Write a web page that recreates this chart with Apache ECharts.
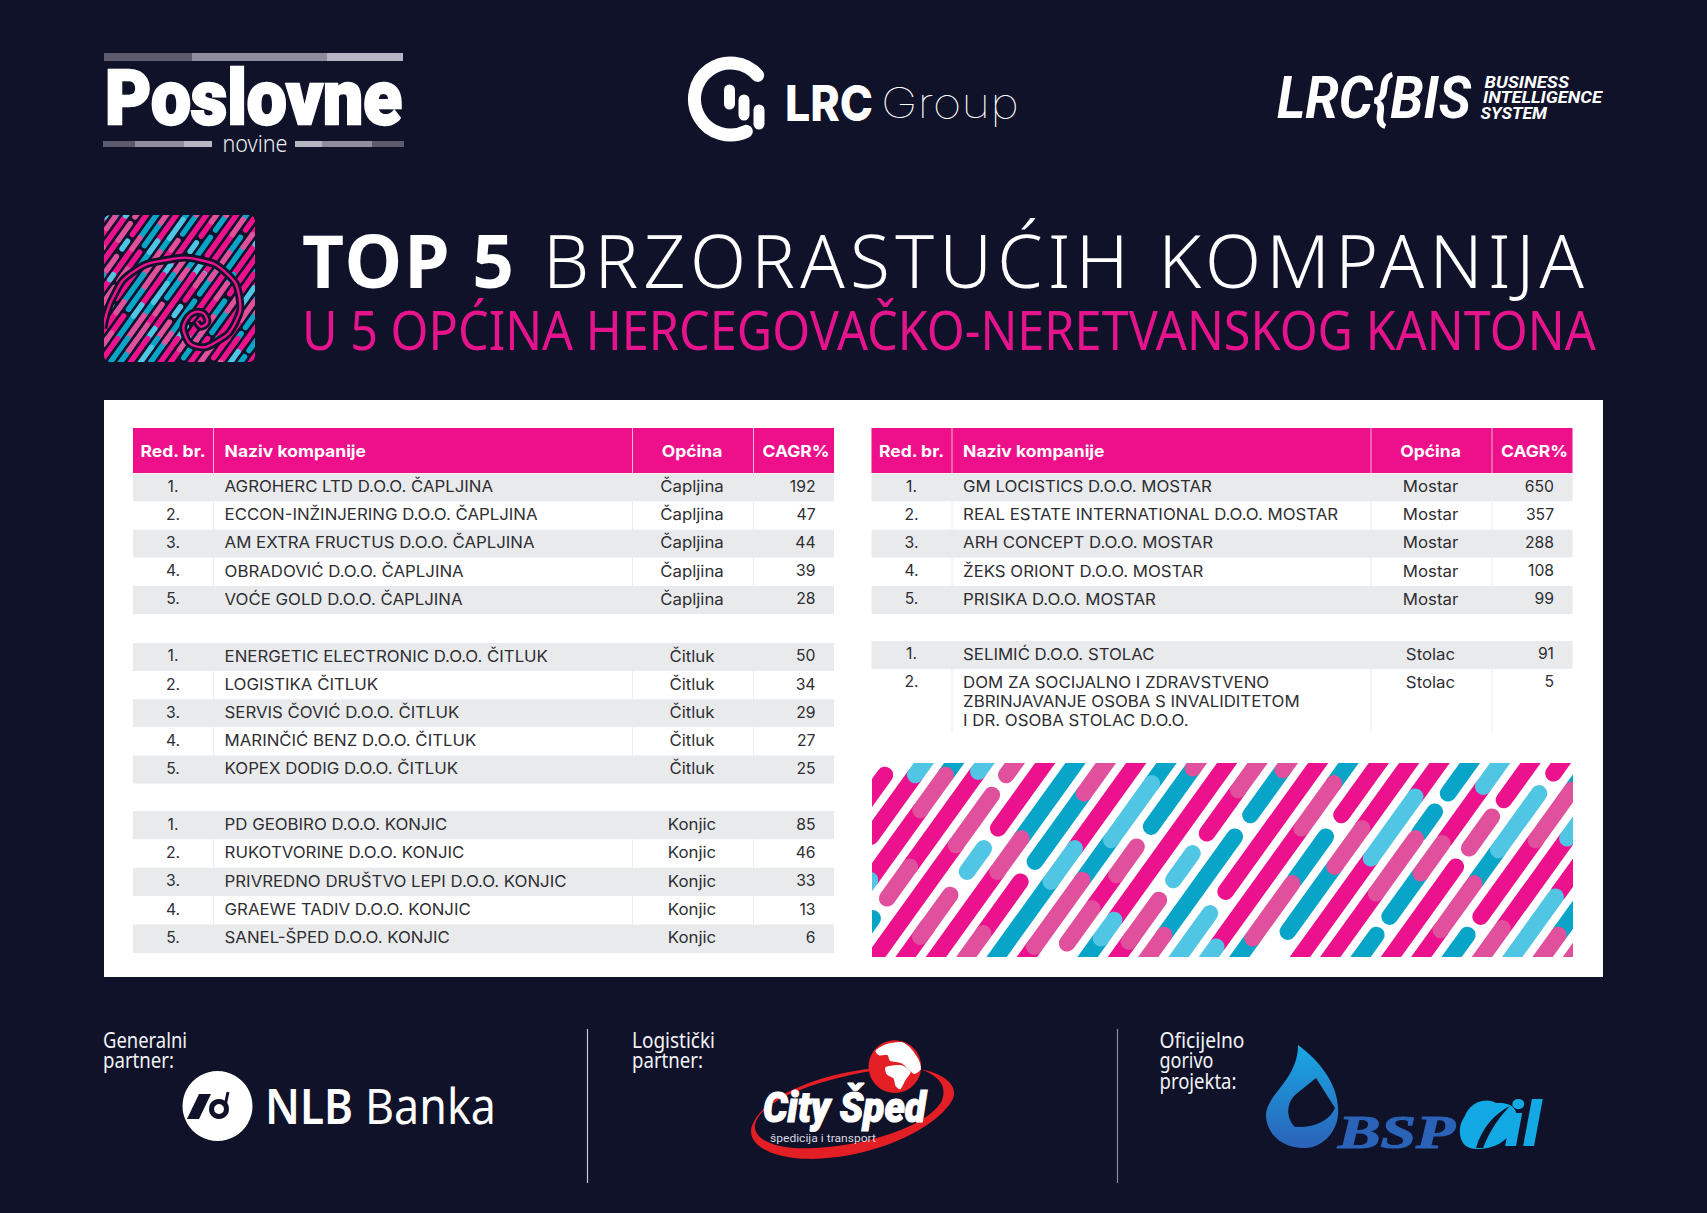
<!DOCTYPE html>
<html lang="bs">
<head>
<meta charset="UTF-8">
<title>Top 5 brzorastućih kompanija</title>
<script src="https://cdn.jsdelivr.net/npm/echarts@6/dist/echarts.min.js"></script>
<style>
html, body { margin: 0; padding: 0; background: #0f1229; }
#main { width: 1707px; height: 1213px; }
</style>
</head>
<body>
<div id="main"></div>
<script>
// table contents
const tableHeader = ['Red. br.', 'Naziv kompanije', 'Općina', 'CAGR%'];

const capljinaNames = ['AGROHERC LTD D.O.O. ČAPLJINA', 'ECCON-INŽINJERING D.O.O. ČAPLJINA', 'AM EXTRA FRUCTUS D.O.O. ČAPLJINA', 'OBRADOVIĆ D.O.O. ČAPLJINA', 'VOĆE GOLD D.O.O. ČAPLJINA'];
const capljinaCagr = [192, 47, 44, 39, 28];

const citlukNames = ['ENERGETIC ELECTRONIC D.O.O. ČITLUK', 'LOGISTIKA ČITLUK', 'SERVIS ČOVIĆ D.O.O. ČITLUK', 'MARINČIĆ BENZ D.O.O. ČITLUK', 'KOPEX DODIG D.O.O. ČITLUK'];
const citlukCagr = [50, 34, 29, 27, 25];

const konjicNames = ['PD GEOBIRO D.O.O. KONJIC', 'RUKOTVORINE D.O.O. KONJIC', 'PRIVREDNO DRUŠTVO LEPI D.O.O. KONJIC', 'GRAEWE TADIV D.O.O. KONJIC', 'SANEL-ŠPED D.O.O. KONJIC'];
const konjicCagr = [85, 46, 33, 13, 6];

const mostarNames = ['GM LOCISTICS D.O.O. MOSTAR', 'REAL ESTATE INTERNATIONAL D.O.O. MOSTAR', 'ARH CONCEPT D.O.O. MOSTAR', 'ŽEKS ORIONT D.O.O. MOSTAR', 'PRISIKA D.O.O. MOSTAR'];
const mostarCagr = [650, 357, 288, 108, 99];

const stolacNames = ['SELIMIĆ D.O.O. STOLAC', 'DOM ZA SOCIJALNO I ZDRAVSTVENO\nZBRINJAVANJE OSOBA S INVALIDITETOM\nI DR. OSOBA STOLAC D.O.O.'];
const stolacCagr = [91, 5];

// decorative stripes: lane, from, to, colour
const patternStrips = [
  [0,45,140,'p'],[1,-10,45,'c'],[1,45,230,'p'],[2,-10,45,'t'],[2,45,150,'r'],[2,150,355,'p'],[2,360,420,'c'],
  [3,-10,35,'c'],[3,35,320,'p'],[3,320,415,'r'],[3,475,560,'t'],[4,-10,45,'r'],[4,105,255,'r'],[4,255,610,'p'],
  [5,-10,205,'p'],[5,265,335,'c'],[5,405,530,'r'],[5,500,610,'p'],[6,-10,235,'t'],[6,235,335,'r'],[6,335,610,'p'],
  [7,-10,100,'r'],[7,100,305,'t'],[7,365,520,'p'],[7,520,610,'r'],[8,-10,265,'p'],[8,265,365,'c'],[8,365,610,'t'],
  [9,-10,70,'t'],[9,70,240,'c'],[9,240,360,'t'],[9,360,560,'r'],[9,560,610,'p'],[10,-10,25,'r'],[10,25,200,'t'],
  [10,260,345,'r'],[10,345,440,'p'],[10,445,550,'r'],[11,-10,475,'p'],[11,480,535,'c'],[11,535,610,'t'],
  [12,-10,90,'r'],[12,90,220,'p'],[12,280,360,'c'],[12,420,545,'r'],[12,530,610,'p'],[13,-10,30,'r'],[13,30,165,'t'],
  [13,230,525,'t'],[13,525,610,'r'],[14,-10,395,'p'],[14,460,610,'c'],[15,-10,70,'t'],[15,70,205,'r'],[15,205,555,'p'],
  [15,560,610,'c'],[16,-10,165,'p'],[16,230,360,'t'],[16,370,535,'r'],[16,535,610,'t'],[17,-10,205,'p'],[17,205,320,'r'],
  [17,320,515,'t'],[18,-10,110,'p'],[18,110,295,'c'],[18,295,610,'p'],[19,-10,100,'t'],[19,155,220,'t'],[19,235,400,'r'],
  [19,400,610,'p'],[20,-10,80,'c'],[20,80,240,'p'],[20,250,340,'r'],[20,340,470,'t'],[20,525,610,'t'],[21,-10,120,'p'],
  [21,170,265,'r'],[21,320,610,'p'],[22,-10,40,'p'],[22,100,270,'c'],[22,270,365,'t'],[22,370,510,'r'],[22,510,610,'p'],
  [23,30,85,'t'],[23,90,240,'r'],[23,240,470,'p'],[23,525,610,'t'],[24,150,235,'c'],[24,235,500,'p'],[24,505,610,'r'],
  [25,300,400,'p'],[25,410,610,'c'],[26,440,525,'t'],[26,525,610,'r'],[27,545,610,'r']
];
const stripColors = { p: '#ec118c', r: '#e0509c', t: '#08a5c9', c: '#50c5e4' };

const spiralPoints = [[10,355],[40,260],[100,185],[200,150],[300,150],[380,190],[418,260],[405,340],[350,395],[290,410],[255,375],[258,330],[295,305],[322,330],[305,350],[290,335]];

const BG = '#0f1229';
const PINK = '#ee0f8b';

// fit text to a measured width
const measureCtx = document.createElement('canvas').getContext('2d');
function textWidth(text, font) {
  measureCtx.font = font;
  return measureCtx.measureText(text).width;
}
function label(text, x, y, family, size, weight, color, width, italic, heavy) {
  const font = (italic ? 'italic ' : '') + weight + ' ' + size + 'px "' + family + '"';
  const scale = width ? width / textWidth(text, font) : 1;
  const style = { text: text, font: font, fill: color, align: 'left', verticalAlign: 'middle' };
  if (heavy) {
    style.stroke = color;
    style.lineWidth = heavy;
  }
  return { type: 'text', x: x, y: y, scaleX: scale, style: style };
}
function strips(ox, oy, s, lw) {
  const order = { p: 0, t: 0, r: 1, c: 1 };
  return patternStrips.slice().sort(function (a, b) { return order[a[3]] - order[b[3]]; }).map(function (d) {
    const c = 70 + 91 * d[0];
    const pt = function (y) { return [ox + (c - 0.72 * (y - 10)) * s / 3, oy + y * s / 3]; };
    const p0 = pt(d[1]), p1 = pt(d[2]);
    return {
      type: 'line', shape: { x1: p0[0], y1: p0[1], x2: p1[0], y2: p1[1] },
      style: { stroke: stripColors[d[3]], lineWidth: lw, lineCap: 'round' }
    };
  });
}
function line(x1, y1, x2, y2, color, lw, cap) {
  return { type: 'line', shape: { x1: x1, y1: y1, x2: x2, y2: y2 }, style: { stroke: color, lineWidth: lw, lineCap: cap || 'butt' } };
}
function box(x, y, w, h, color) {
  return { type: 'rect', shape: { x: x, y: y, width: w, height: h }, style: { fill: color } };
}

// rows of one table, tops measured from the top of its header
function tableRows(groups) {
  const rows = [{ top: 0, height: 45, header: true, cells: tableHeader }];
  groups.forEach(function (g) {
    let top = g.top;
    g.names.forEach(function (name, i) {
      const lines = name.split('\n').length;
      const h = lines > 1 ? 63 : g.pitch;
      rows.push({ top: top, height: h, band: i % 2 === 0, multi: lines > 1, cells: [(i + 1) + '.', name, g.town, String(g.cagr[i])] });
      top += h;
    });
  });
  return rows;
}
const leftRows = tableRows([
  { top: 45.5, pitch: 28.1, names: capljinaNames, town: 'Čapljina', cagr: capljinaCagr },
  { top: 215, pitch: 28.1, names: citlukNames, town: 'Čitluk', cagr: citlukCagr },
  { top: 383, pitch: 28.4, names: konjicNames, town: 'Konjic', cagr: konjicCagr }
]);
const rightRows = tableRows([
  { top: 45.5, pitch: 28.1, names: mostarNames, town: 'Mostar', cagr: mostarCagr },
  { top: 213, pitch: 28.1, names: stolacNames, town: 'Stolac', cagr: stolacCagr }
]);

const colLines = [80, 499, 620];
function renderRow(rows) {
  return function (params, api) {
    const row = rows[params.dataIndex];
    const p = function (x, y) { return api.coord([x, y]); };
    const a = p(0, row.top), b = p(701, row.top + row.height);
    const children = [];
    const fill = row.header ? PINK : (row.band ? '#e9eaec' : '#ffffff');
    children.push({ type: 'rect', shape: { x: a[0], y: a[1], width: b[0] - a[0], height: b[1] - a[1] }, style: { fill: fill } });
    if (!row.band) {
      colLines.forEach(function (cx) {
        const q = p(cx, 0);
        children.push({ type: 'line', shape: { x1: q[0] + 0.5, y1: a[1], x2: q[0] + 0.5, y2: b[1] }, style: { stroke: row.header ? '#f9b4d8' : '#ececec', lineWidth: 1 } });
      });
    }
    const mid = row.multi ? a[1] + 12.8 : (a[1] + b[1]) / 2 + (row.header ? 0.8 : -1.2);
    const color = row.header ? '#ffffff' : '#2e2e33';
    const xs = row.header ? [40, 91.6, 559, 663] : [40, 91.6, 559, 682.5];
    const aligns = row.header ? ['center', 'left', 'center', 'center'] : ['center', 'left', 'center', 'right'];
    const cellText = function (text, x, y, i) {
      // rank and CAGR stay narrow, the wider cells are stretched a little
      const plain = !row.header && (i === 0 || i === 3);
      return {
        type: 'text', x: x, y: y, scaleX: row.header ? 1.06 : (plain ? 0.98 : 1.05),
        style: {
          text: text, x: 0, y: 0, fill: color, align: aligns[i], verticalAlign: 'middle',
          font: row.header ? '700 16.5px Inter' : '400 16px Inter'
        }
      };
    };
    row.cells.forEach(function (cell, i) {
      const q = p(xs[i], 0);
      if (row.multi && i === 1) {
        cell.split('\n').forEach(function (part, j) {
          children.push(cellText(part, q[0], mid + j * 19, i));
        });
      } else {
        children.push(cellText(cell, q[0], mid, i));
      }
    });
    return { type: 'group', children: children };
  };
}

const graphics = [];
// small square emblem, tiled from the same stripes so the lanes carry on
[[90, 212], [74.1, 275.8], [58.2, 339.6]].forEach(function (t) {
  strips(t[0], t[1], 0.33, 5.4).forEach(function (el) { graphics.push(el); });
});
const spiralReal = spiralPoints.map(function (q) { return [100 + q[0] / 3, 210 + q[1] / 3]; });
graphics.push({ type: 'polyline', shape: { points: spiralReal, smooth: 0.5 }, style: { stroke: BG, lineWidth: 8, fill: null } });
graphics.push({ type: 'polyline', shape: { points: spiralReal, smooth: 0.5 }, style: { stroke: '#ec118c', lineWidth: 2.4, fill: null } });
graphics.push({ type: 'rect', shape: { x: 4, y: 115, width: 351, height: 347, r: 106 }, style: { fill: null, stroke: BG, lineWidth: 200 } });

// white panel and the stripe block
graphics.push(box(104, 400, 1499, 577, '#ffffff'));
strips(870, 760, 1, 16.5).forEach(function (el) { graphics.push(el); });
graphics.push(box(840, 736, 763, 27, '#ffffff'), box(840, 736, 32, 241, '#ffffff'), box(1573, 736, 30, 241, '#ffffff'), box(840, 957, 763, 20, '#ffffff'));

// title
graphics.push(label('TOP 5', 302, 259, 'Noto Sans', 73, 700, '#ffffff'));
graphics.push(label('BRZORASTUĆIH KOMPANIJA', 543, 259, 'Noto Sans', 73, 300, '#ffffff'));
graphics.push(label('U 5 OPĆINA HERCEGOVAČKO-NERETVANSKOG KANTONA', 302, 329, 'Noto Sans', 55, 375, '#e5148c', 1294));

// Poslovne novine
graphics.push(box(104, 53, 88, 8, '#5d5a6b'), box(192, 53, 135, 8, '#8f8ca0'), box(327, 53, 76, 8, '#b8b4c4'));
graphics.push(label('Poslovne', 105, 98, 'Roboto', 76, 900, '#ffffff', 297, false, 2.5));
graphics.push(box(103, 141, 32, 6, '#5d5a6b'), box(135, 141, 49, 6, '#8f8ca0'), box(184, 141, 28, 6, '#b8b4c4'));
graphics.push(box(295, 141, 27, 6, '#b8b4c4'), box(322, 141, 50, 6, '#8f8ca0'), box(372, 141, 32, 6, '#5d5a6b'));
graphics.push(label('novine', 222.5, 143, 'Noto Sans', 23, 300, '#eeeef2', 65));

// LRC Group
graphics.push({ type: 'arc', shape: { cx: 730.5, cy: 99, r: 36, startAngle: -41 * Math.PI / 180, endAngle: 64 * Math.PI / 180, clockwise: false }, style: { stroke: '#ffffff', lineWidth: 13, lineCap: 'round', fill: null } });
graphics.push(line(729.5, 90, 729.5, 104, '#ffffff', 11, 'round'), line(744, 100, 744, 115, '#ffffff', 11, 'round'), line(759, 110, 759, 124, '#ffffff', 11, 'round'));
graphics.push(label('LRC', 785, 103, 'Inter', 50, 800, '#ffffff', 88));
graphics.push(label('Group', 881, 103, 'Inter', 42, 100, '#ffffff', 138));

// LRC{BIS
graphics.push(label('LRC{BIS', 1277, 97, 'Roboto', 60, 700, '#ffffff', 194, true));
graphics.push(label('BUSINESS', 1484.5, 82, 'Roboto', 17, 700, '#ffffff', 84.5, true));
graphics.push(label('INTELLIGENCE', 1483, 97, 'Roboto', 17, 700, '#ffffff', 119, true));
graphics.push(label('SYSTEM', 1480.5, 113, 'Roboto', 17, 700, '#ffffff', 66.5, true));

// partner captions and dividers
[['Generalni', 103, 1040, 84], ['partner:', 103, 1060, 71], ['Logistički', 632, 1040, 83], ['partner:', 632, 1060, 71],
  ['Oficijelno', 1159.5, 1040, 85], ['gorivo', 1159.5, 1060, 54], ['projekta:', 1159.5, 1081, 77]].forEach(function (c) {
  graphics.push(label(c[0], c[1], c[2], 'Noto Sans', 21, 400, '#f2f2f6', c[3]));
});
graphics.push(line(587.5, 1029, 587.5, 1183, '#c8c8d4', 1.2), line(1117.5, 1029, 1117.5, 1183, '#8d8da3', 1.2));

// NLB Banka
graphics.push({ type: 'circle', shape: { cx: 217.5, cy: 1106, r: 35 }, style: { fill: '#ffffff' } });
graphics.push({ type: 'polygon', shape: { points: [[187, 1119], [199, 1094], [211, 1094], [199, 1119]] }, style: { fill: BG } });
graphics.push({ type: 'circle', shape: { cx: 219, cy: 1109, r: 7.5 }, style: { fill: null, stroke: BG, lineWidth: 5 } });
graphics.push(line(228, 1092, 225, 1106, BG, 3));
graphics.push(label('NLB', 265, 1105, 'Noto Sans', 49, 600, '#ffffff', 88));
graphics.push(label('Banka', 365, 1105, 'Noto Sans', 49, 400, '#ffffff', 131));

// logos that need free paths go through a custom series
function renderLogos() {
  return {
    type: 'group',
    children: [
      {
        type: 'group', x: 745, y: 1030, scaleX: 1 / 3, scaleY: 1 / 3,
        children: [
          { type: 'path', shape: { pathData: 'M375,116 C250,130 60,185 20,290 C5,345 80,385 190,387 C360,390 560,310 620,215 C650,165 590,130 530,118 C580,140 610,165 590,215 C540,300 320,360 160,355 C90,352 25,330 30,285 C40,225 170,160 375,124 Z' }, style: { fill: '#e31e24' } },
          { type: 'circle', shape: { cx: 450, cy: 110, r: 79 }, style: { fill: '#e31e24' } },
          { type: 'polygon', shape: { points: [[392, 62], [425, 42], [470, 36], [495, 52], [522, 90], [528, 118], [508, 132], [470, 100], [435, 92], [428, 76], [402, 76]], smooth: 0.25 }, style: { fill: '#ffffff' } },
          { type: 'polygon', shape: { points: [[422, 112], [470, 106], [497, 126], [482, 150], [466, 178], [452, 168], [446, 146], [426, 134]], smooth: 0.25 }, style: { fill: '#ffffff' } }
        ]
      },
      label('City Šped', 763, 1108, 'Roboto', 42, 900, '#ffffff', 163, true, 1.2),
      label('špedicija i transport', 770, 1138.5, 'Roboto', 11, 400, '#d8d8e0', 106),
      { type: 'path', shape: { pathData: 'M1298,1045 C1325,1065 1340,1090 1338,1115 C1336,1135 1320,1148 1305,1148 C1280,1148 1266,1132 1266,1115 C1266,1095 1298,1080 1298,1045 Z' }, style: { fill: { type: 'linear', x: 0, y: 0, x2: 0, y2: 1, colorStops: [{ offset: 0, color: '#18a8e4' }, { offset: 1, color: '#2b62b8' }] } } },
      { type: 'path', shape: { pathData: 'M1316,1078 L1335,1108 C1330,1120 1315,1128 1295,1127 C1287,1120 1285,1105 1295,1095 Z' }, style: { fill: BG } },
      label('BSP', 1338, 1132, 'Liberation Serif', 47, 700, '#2a63b8', 117, true, 1.2),
      { type: 'path', shape: { pathData: 'M1460,1134 C1458,1112 1480,1103 1500,1103 C1514,1103 1520,1112 1515,1125 C1509,1142 1493,1149 1477,1149 C1466,1149 1461,1143 1460,1134 Z' }, style: { fill: '#12a9e4' } },
      label('Oil', 1460, 1125, 'Roboto', 62, 900, '#12a9e4', 81, true),
      { type: 'path', shape: { pathData: 'M1476,1148 C1482,1128 1494,1114 1510,1106 C1500,1116 1490,1130 1483,1148 Z' }, style: { fill: BG } }
    ]
  };
}

const grids = [
  { left: 133, top: 428, width: 701, height: 530 },
  { left: 871.5, top: 428, width: 701, height: 530 }
];
const axisBase = { show: false, min: 0 };

const chart = echarts.init(document.getElementById('main'), null, { renderer: 'svg' });
chart.setOption({
  animation: false,
  backgroundColor: BG,
  graphic: { elements: graphics },
  grid: grids,
  xAxis: [0, 1].map(function (i) { return Object.assign({ type: 'value', gridIndex: i, max: 701 }, axisBase); }),
  yAxis: [0, 1].map(function (i) { return Object.assign({ type: 'value', gridIndex: i, max: 530, inverse: true }, axisBase); }),
  series: [leftRows, rightRows].map(function (rows, i) {
    return {
      type: 'custom', xAxisIndex: i, yAxisIndex: i, z: 10, clip: false, silent: true,
      renderItem: renderRow(rows),
      data: rows.map(function (r) { return [0, r.top, r.height]; })
    };
  }).concat([{ type: 'custom', coordinateSystem: 'none', z: 10, silent: true, renderItem: renderLogos, data: [0] }])
});

// title tracking, zrender has no letter spacing of its own
const tracking = { 'TOP 5': 212, 'BRZORASTUĆIH KOMPANIJA': 1041 };
document.querySelectorAll('#main svg text').forEach(function (t) {
  const target = tracking[t.textContent];
  if (target) {
    const natural = t.getComputedTextLength();
    t.style.letterSpacing = ((target - natural) / (t.textContent.length - 1)) + 'px';
  }
});
</script>
</body>
</html>
